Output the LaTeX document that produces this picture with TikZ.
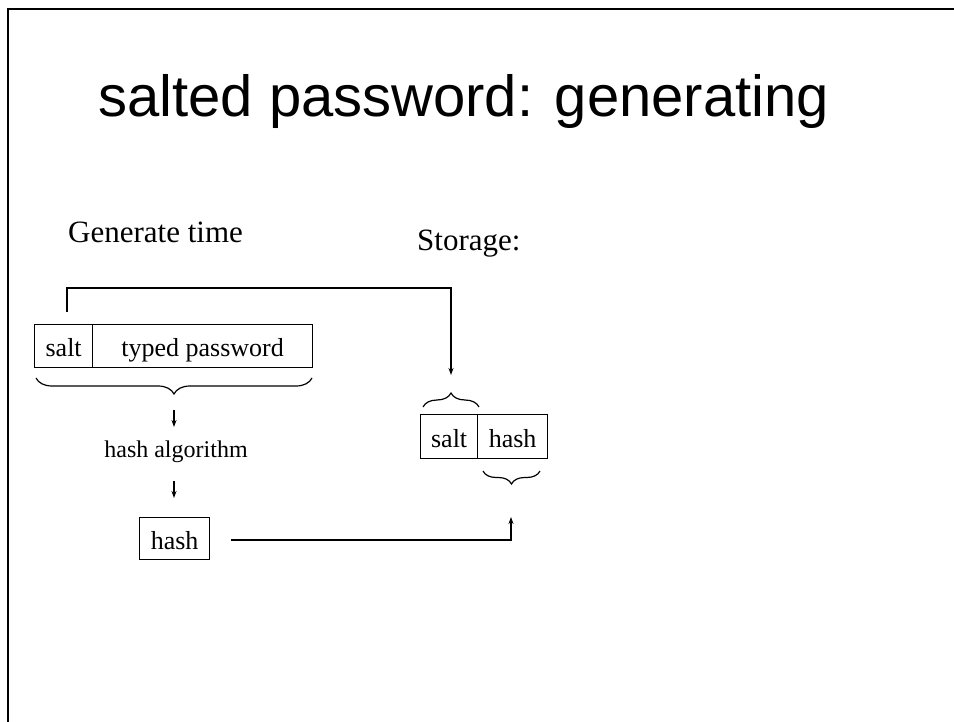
\documentclass[tikz,border=0pt]{standalone}
\usepackage{fontspec}
\setmainfont{Liberation Serif}
\newfontfamily\headfont{Liberation Sans}
\usetikzlibrary{arrows.meta,decorations.pathreplacing}

\tikzset{
  cell/.style={draw, line width=1.3pt, inner sep=0pt, anchor=north west,
    text height=24pt, text depth=3pt, font=\fontsize{26}{26}\selectfont},
  label/.style={inner sep=0pt, anchor=base west, font=\fontsize{31}{31}\selectfont},
  link/.style={line width=1.2pt, -{Stealth[length=7pt,width=5pt]}},
  curly/.style={line width=1.2pt, decorate, decoration={brace, amplitude=#1}},
}

\begin{document}
\begin{tikzpicture}[x=1pt, y=-1pt]
  \useasboundingbox (0,0) rectangle (954,722);

  % slide frame
  \draw[line width=2.6pt] (8,722) -- (8,9) -- (954,9);

  % heading
  \node[inner sep=0pt, anchor=base west, font=\headfont\fontsize{58}{58}\selectfont]
    (title) at (98,117) {salted password: generating};

  \node[label] (gen) at (68,243) {Generate time};
  \node[label] (store) at (417,251) {Storage:};

  % input: salt + typed password
  \node[cell, minimum width=58pt, minimum height=43pt] (salt) at (34,324) {salt};
  \node[cell, minimum width=220pt, minimum height=43pt] (pw) at (92,324) {typed password};

  \draw[curly=16pt] (312,378) -- (36,378);

  \node[inner sep=0pt, anchor=base, font=\fontsize{24}{24}\selectfont]
    (algo) at (176,457) {hash algorithm};
  \coordinate (a1s) at (174,410);
  \coordinate (a1e) at (174,427);
  \coordinate (a2s) at (174,481);
  \coordinate (a2e) at (174,498);
  \draw[link] (a1s) -- (a1e);
  \draw[link] (a2s) -- (a2e);

  % resulting hash
  \node[cell, minimum width=70pt, minimum height=42pt] (hash) at (139,517) {hash};

  % stored record: salt + hash
  \node[cell, minimum width=57pt, minimum height=44pt] (ssalt) at (420,414) {salt};
  \node[cell, minimum width=70pt, minimum height=44pt] (shash) at (477,414) {hash};

  \draw[curly=14pt] (423,407) -- (479,407);
  \draw[curly=13pt] (540,471) -- (483,471);

  % connectors
  \coordinate (sfrom) at (67,312);
  \coordinate (sto) at (451,375);
  \draw[link] (sfrom) |- (451,288) -- (sto);

  \coordinate (hfrom) at (231,540);
  \coordinate (hto) at (511,517);
  \draw[link] (hfrom) -| (hto);
\end{tikzpicture}
\end{document}
